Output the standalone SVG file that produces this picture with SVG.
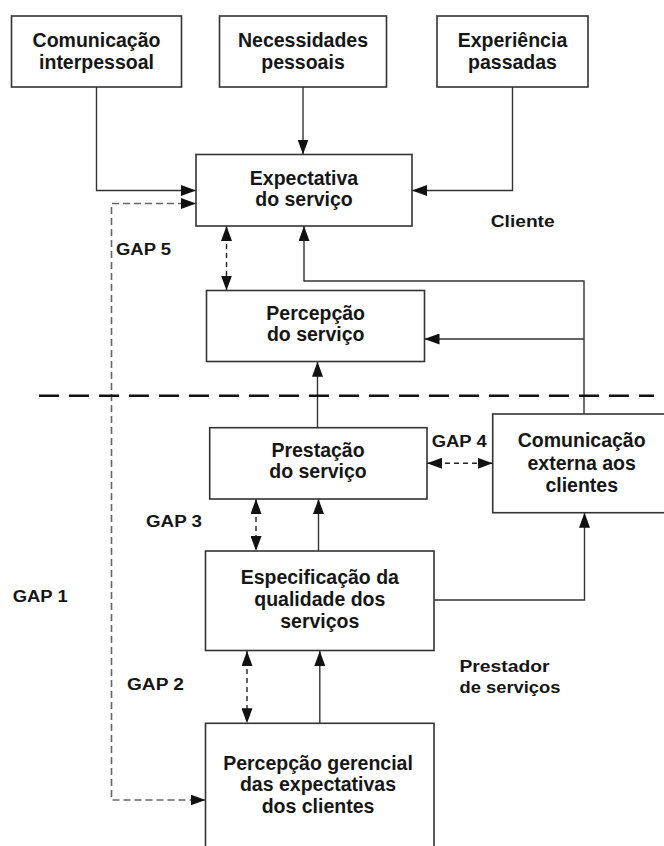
<svg xmlns="http://www.w3.org/2000/svg" width="664" height="846" viewBox="0 0 664 846">
<defs>
<marker id="ah" markerUnits="userSpaceOnUse" markerWidth="15" markerHeight="11" refX="15" refY="5.5" orient="auto-start-reverse" viewBox="0 0 15 11">
<path d="M0,0 L15,5.5 L0,11 z" fill="#111"/>
</marker>
<style>
.box{fill:#fff;stroke:#333;stroke-width:1.6}
.t{font-family:"Liberation Sans",Arial,sans-serif;font-weight:bold;font-size:19.5px;fill:#161616;text-anchor:middle}
.l{font-family:"Liberation Sans",Arial,sans-serif;font-weight:bold;font-size:16px;fill:#161616}
.c{fill:none;stroke:#333;stroke-width:1.4}
.gap{fill:none;stroke:#222;stroke-width:1.4;stroke-dasharray:5 4}
.gap1{fill:none;stroke:#666;stroke-width:1.6;stroke-dasharray:7 4}
.sep{fill:none;stroke:#111;stroke-width:2.5;stroke-dasharray:20 10}
</style>
</defs>
<rect width="664" height="846" fill="#fff"/>

<g id="connectors">
<path class="c" d="M96.5,87 V190.5 H196" marker-end="url(#ah)"/>
<path class="c" d="M303,87 V154.5" marker-end="url(#ah)"/>
<path class="c" d="M512.5,87 V190.5 H412" marker-end="url(#ah)"/>
<path class="gap1" d="M196,203.5 H111.5 V800 H205.5" marker-start="url(#ah)" marker-end="url(#ah)"/>
<path class="gap" d="M226.5,226 V290.5" marker-start="url(#ah)" marker-end="url(#ah)"/>
<path class="c" d="M584,414 V281 H304 V226" marker-end="url(#ah)"/>
<path class="c" d="M584,339 H424.5" marker-end="url(#ah)"/>
<path class="c" d="M317.5,427.7 V361.7" marker-end="url(#ah)"/>
<path class="gap" d="M427,463.3 H492.7" marker-start="url(#ah)" marker-end="url(#ah)"/>
<path class="gap" d="M256,499 V551" marker-start="url(#ah)" marker-end="url(#ah)"/>
<path class="c" d="M318.5,551 V499" marker-end="url(#ah)"/>
<path class="c" d="M434,600 H584.5 V512.7" marker-end="url(#ah)"/>
<path class="gap" d="M247,651 V723.3" marker-start="url(#ah)" marker-end="url(#ah)"/>
<path class="c" d="M319.8,723.3 V651" marker-end="url(#ah)"/>
<path class="sep" d="M39,395.7 H654"/>
</g>

<g id="comunicacao-interpessoal">
<rect class="box" x="11.5" y="16" width="170" height="71"/>
<text class="t" x="96.5" y="47">Comunicação</text>
<text class="t" x="96.5" y="69">interpessoal</text>
</g>
<g id="necessidades-pessoais">
<rect class="box" x="219.5" y="16" width="167" height="71"/>
<text class="t" x="303" y="47">Necessidades</text>
<text class="t" x="303" y="69">pessoais</text>
</g>
<g id="experiencia-passadas">
<rect class="box" x="437" y="16" width="151" height="71"/>
<text class="t" x="512.5" y="47">Experiência</text>
<text class="t" x="512.5" y="69">passadas</text>
</g>
<g id="expectativa-servico">
<rect class="box" x="196" y="154.5" width="216" height="71.5"/>
<text class="t" x="304" y="185">Expectativa</text>
<text class="t" x="304" y="206">do serviço</text>
</g>
<g id="percepcao-servico">
<rect class="box" x="206.5" y="290.5" width="218" height="71"/>
<text class="t" x="315.7" y="320">Percepção</text>
<text class="t" x="315.7" y="341">do serviço</text>
</g>
<g id="prestacao-servico">
<rect class="box" x="209.7" y="427.7" width="217.3" height="71.3"/>
<text class="t" x="318" y="456.7">Prestação</text>
<text class="t" x="318" y="478.3">do serviço</text>
</g>
<g id="comunicacao-externa">
<rect class="box" x="492.7" y="414" width="180" height="98.7"/>
<text class="t" x="581.7" y="447">Comunicação</text>
<text class="t" x="581.7" y="469.5">externa aos</text>
<text class="t" x="581.7" y="492">clientes</text>
</g>
<g id="especificacao-qualidade">
<rect class="box" x="205.5" y="551" width="228.5" height="99.5"/>
<text class="t" x="319.8" y="583.5">Especificação da</text>
<text class="t" x="319.8" y="605.7">qualidade dos</text>
<text class="t" x="319.8" y="628">serviços</text>
</g>
<g id="percepcao-gerencial">
<rect class="box" x="205.5" y="723.3" width="228.5" height="140"/>
<text class="t" x="318" y="769.5">Percepção gerencial</text>
<text class="t" x="318" y="791">das expectativas</text>
<text class="t" x="318" y="813">dos clientes</text>
</g>

<g id="labels">
<text class="l" x="490.7" y="226.7" textLength="64" lengthAdjust="spacingAndGlyphs">Cliente</text>
<text class="l" x="116" y="255" textLength="55" lengthAdjust="spacingAndGlyphs">GAP 5</text>
<text class="l" x="431.7" y="446.7" textLength="55" lengthAdjust="spacingAndGlyphs">GAP 4</text>
<text class="l" x="146" y="527.3" textLength="56" lengthAdjust="spacingAndGlyphs">GAP 3</text>
<text class="l" x="12.7" y="601.7" textLength="55" lengthAdjust="spacingAndGlyphs">GAP 1</text>
<text class="l" x="127" y="690" textLength="57" lengthAdjust="spacingAndGlyphs">GAP 2</text>
<text class="l" x="459.5" y="671.7" textLength="90" lengthAdjust="spacingAndGlyphs">Prestador</text>
<text class="l" x="459.5" y="692.5" textLength="101" lengthAdjust="spacingAndGlyphs">de serviços</text>
</g>
</svg>
